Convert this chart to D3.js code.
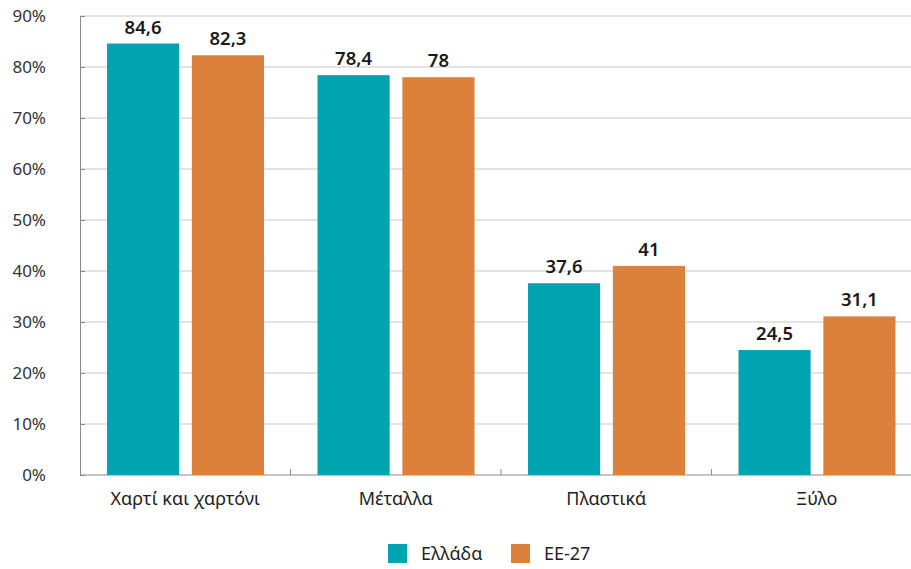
<!DOCTYPE html>
<html>
<head>
<meta charset="utf-8">
<script src="https://cdn.jsdelivr.net/npm/d3@7"></script>
<style>
  body { margin: 0; background: #fff; }
  text { font-family: "Noto Sans", sans-serif; }
</style>
</head>
<body>
<svg id="chart" width="911" height="569"></svg>
<script>
const categories = ['Χαρτί και χαρτόνι', 'Μέταλλα', 'Πλαστικά', 'Ξύλο'];
const series = ['Ελλάδα', 'ΕΕ-27'];
const greece = [84.6, 78.4, 37.6, 24.5];
const eu27 = [82.3, 78, 41, 31.1];
const yTicks = [0, 10, 20, 30, 40, 50, 60, 70, 80, 90];
const colors = ['#00a3b0', '#db813b'];

const values = [greece, eu27];
const svg = d3.select('#chart');

const x0 = d3.scaleBand().domain(categories).range([80, 922]);
const x1 = d3.scaleBand().domain(series).range([27, 184]).paddingInner(0.15);
const y = d3.scaleLinear().domain([0, 90]).range([475, 16]);

// gridlines
svg.append('g')
  .selectAll('line')
  .data(yTicks.slice(1))
  .enter()
  .append('line')
  .attr('x1', 80).attr('x2', 911)
  .attr('y1', d => y(d)).attr('y2', d => y(d))
  .attr('stroke', '#cbc6c2')
  .attr('stroke-width', 1);

// y axis
const yAxis = svg.append('g')
  .attr('transform', 'translate(80,0)')
  .call(d3.axisLeft(y).tickValues(yTicks).tickFormat(d => d + '%').tickSize(-5).tickPadding(34));
yAxis.select('.domain').attr('stroke', '#8a8a8a');
yAxis.selectAll('.tick line').attr('stroke', '#8a8a8a');
yAxis.selectAll('text').attr('font-size', 17).attr('fill', '#333').attr('dy', '0.35em');

// x axis baseline with inner ticks
const xAxis = svg.append('g')
  .attr('transform', 'translate(0,475)')
  .call(d3.axisBottom(x0).tickSize(0).tickPadding(17));
xAxis.select('.domain').attr('stroke', '#8a8a8a').attr('d', 'M80,0H911');
xAxis.selectAll('text').attr('font-size', 18).attr('fill', '#222');
svg.append('g')
  .selectAll('line')
  .data(categories.slice(1))
  .enter()
  .append('line')
  .attr('x1', d => x0(d)).attr('x2', d => x0(d))
  .attr('y1', 475).attr('y2', 469)
  .attr('stroke', '#8a8a8a');

// bars
const groups = svg.append('g')
  .selectAll('g')
  .data(categories)
  .enter()
  .append('g')
  .attr('transform', d => `translate(${x0(d)},0)`);

groups.selectAll('rect')
  .data((d, i) => series.map((s, j) => ({ s, v: values[j][i], j })))
  .enter()
  .append('rect')
  .attr('x', d => x1(d.s))
  .attr('width', x1.bandwidth())
  .attr('y', d => y(d.v))
  .attr('height', d => y(0) - y(d.v))
  .attr('fill', d => colors[d.j]);

groups.selectAll('text.val')
  .data((d, i) => series.map((s, j) => ({ s, v: values[j][i], j })))
  .enter()
  .append('text')
  .attr('class', 'val')
  .attr('x', d => x1(d.s) + x1.bandwidth() / 2)
  .attr('y', d => y(d.v) - 10)
  .attr('text-anchor', 'middle')
  .attr('font-size', 18.5)
  .attr('font-weight', 600)
  .attr('fill', '#1a1a1a')
  .text(d => String(d.v).replace('.', ','));

// legend
const legend = svg.append('g');
const legendX = [388, 511];
series.forEach((s, i) => {
  legend.append('rect')
    .attr('x', legendX[i]).attr('y', 544)
    .attr('width', 19).attr('height', 19)
    .attr('fill', colors[i]);
  legend.append('text')
    .attr('x', legendX[i] + 33).attr('y', 560)
    .attr('font-size', 18)
    .attr('fill', '#222')
    .text(s);
});
</script>
</body>
</html>
